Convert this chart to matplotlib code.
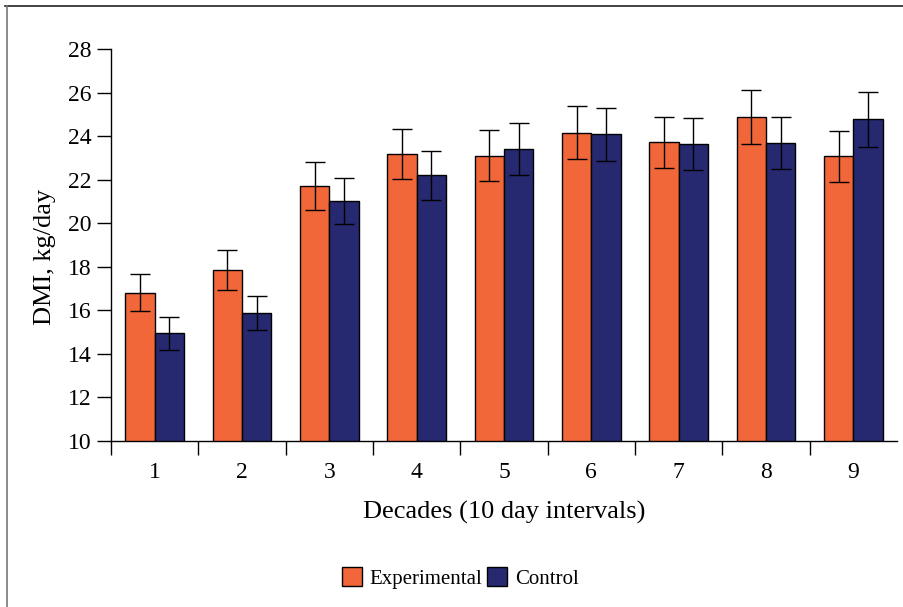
import numpy as np
import matplotlib.pyplot as plt
from matplotlib.lines import Line2D

plt.rcParams['font.family'] = ['Liberation Serif', 'DejaVu Serif']

decades = ['1', '2', '3', '4', '5', '6', '7', '8', '9']
experimental = [16.80, 17.85, 21.72, 23.16, 23.10, 24.16, 23.71, 24.86, 23.07]
experimental_err = [0.85, 0.90, 1.10, 1.15, 1.16, 1.22, 1.18, 1.24, 1.18]
control = [14.94, 15.88, 21.03, 22.20, 23.42, 24.08, 23.64, 23.70, 24.77]
control_err = [0.75, 0.80, 1.06, 1.13, 1.20, 1.20, 1.19, 1.19, 1.25]

orange = '#f26739'
navy = '#262870'

fig = plt.figure(figsize=(9.04, 6.07), dpi=100)
ax = fig.add_axes([111 / 904, 1 - 441 / 607, (897 - 111) / 904, (441 - 49) / 607])

x = np.arange(len(decades))
w = 0.337
err_kw = dict(ecolor='black', elinewidth=1.0, capsize=7, capthick=1.0)
ax.bar(x - w / 2, experimental, w, yerr=experimental_err, color=orange,
       edgecolor='black', linewidth=1.0, label='Experimental', error_kw=err_kw)
ax.bar(x + w / 2, control, w, yerr=control_err, color=navy,
       edgecolor='black', linewidth=1.0, label='Control', error_kw=err_kw)

ax.set_ylim(10, 28)
ax.set_xlim(-0.5, len(decades) - 0.5)
ax.set_yticks(np.arange(10, 29, 2))
ax.tick_params(axis='y', labelsize=17, length=10, width=1, direction='out', pad=4)

# category labels sit between the group boundary ticks
ax.set_xticks(x)
ax.set_xticklabels(decades)
ax.tick_params(axis='x', which='major', length=0, labelsize=17, pad=15)
ax.set_xticks(np.arange(-0.5, len(decades) - 1, 1), minor=True)
ax.tick_params(axis='x', which='minor', length=10, width=1, direction='out')

for side in ['top', 'right']:
    ax.spines[side].set_visible(False)
for side in ['left', 'bottom']:
    ax.spines[side].set_linewidth(1.0)

ax.set_ylabel('DMI, kg/day', fontsize=19)
ax.yaxis.set_label_coords(-0.07, 0.47)
ax.set_xlabel('Decades (10 day intervals)', fontsize=19, labelpad=13)

fig.legend(loc='center', bbox_to_anchor=(460 / 904, 1 - 578 / 607), ncol=2,
           frameon=False, fontsize=15, handlelength=1.0, handleheight=1.0,
           handletextpad=0.35, columnspacing=0.2)

# outer frame on top and left edges
fig.add_artist(Line2D([5 / 904, 1], [1 - 6 / 607] * 2, color='#222222', lw=1.2,
                      transform=fig.transFigure))
fig.add_artist(Line2D([7 / 904] * 2, [0, 1 - 6 / 607], color='#777777', lw=1.2,
                      transform=fig.transFigure))

fig.savefig('out.png', dpi=100)
